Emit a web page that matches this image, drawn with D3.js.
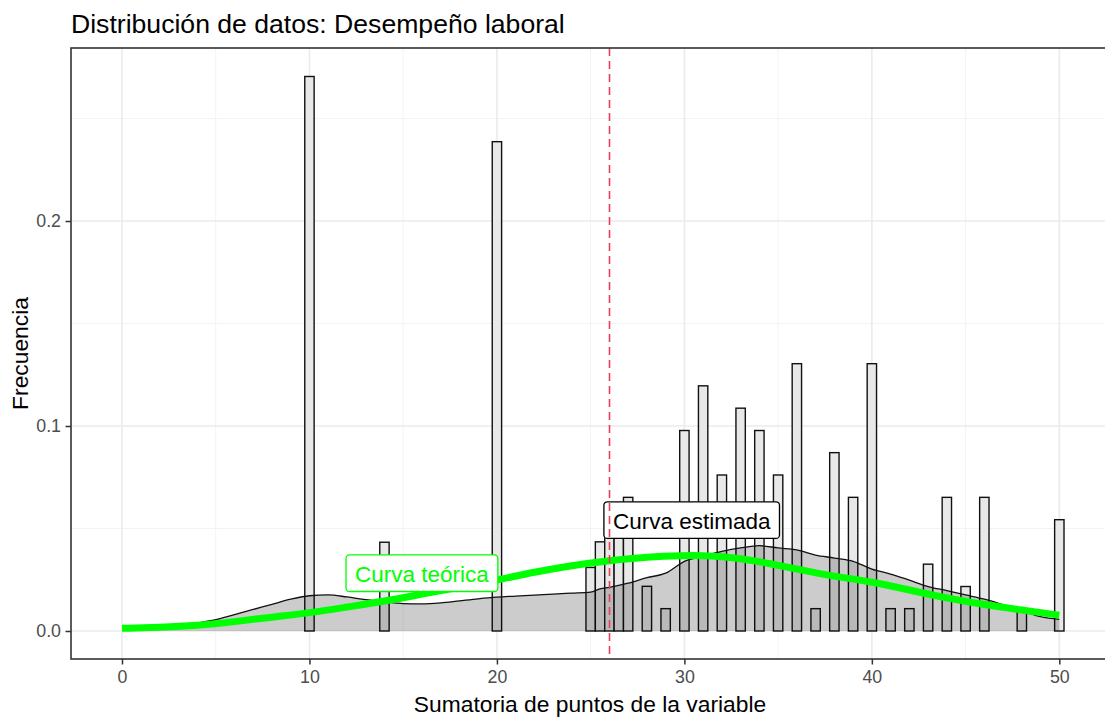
<!DOCTYPE html>
<html><head><meta charset="utf-8">
<script src="https://cdn.jsdelivr.net/npm/d3@7"></script>
<style>body{margin:0;background:#fff} text{font-family:"Liberation Sans",Arial,sans-serif}</style>
</head><body><svg id="c" width="1105" height="718"></svg>
<script>
// ---- data ----
const barX = [10,14,20,25,25.5,26,26.5,27,28,29,30,31,32,33,34,35,36,37,38,39,40,41,42,43,44,45,46,48,50];
const barY = [0.2705,0.0433,0.2387,0.031,0.0435,0.0543,0.0543,0.0652,0.0218,0.0109,0.0978,0.1196,0.0761,0.1087,0.0978,0.0761,0.1304,0.0109,0.087,0.0652,0.1304,0.0109,0.0109,0.0326,0.0652,0.0217,0.0652,0.0109,0.0543];
const binWidth = 0.5;

const densX = [0,1,2,3,4,5,6,7,8,9,10,11,12,13,14,15,16,17,18,19,20,21,22,23,24,25,25.5,26,27,28,29,30,31,32,33,34,35,36,37,38,39,40,41,42,43,44,45,46,47,48,49,50];
const densY = [0.0005,0.0007,0.001,0.002,0.0038,0.0055,0.008,0.0105,0.013,0.0155,0.0172,0.0176,0.0166,0.0153,0.0143,0.0134,0.0132,0.0137,0.0147,0.0157,0.0165,0.017,0.0175,0.018,0.0185,0.019,0.0205,0.0213,0.0233,0.026,0.0282,0.034,0.0365,0.0388,0.0405,0.0416,0.0405,0.0396,0.037,0.0356,0.034,0.0302,0.0278,0.0248,0.0217,0.0197,0.0176,0.0155,0.0128,0.0099,0.007,0.0057];

const normX = [0,2,4,6,8,10,12,14,16,18,20,22,24,26,28,30,31,32,33,34.5,36,38,40,42,44,46,48,50];
const normY = [0.0013,0.0018,0.0026,0.0045,0.0068,0.0088,0.0117,0.0145,0.018,0.0213,0.0248,0.0288,0.032,0.0344,0.0362,0.0368,0.0368,0.0363,0.0354,0.033,0.0302,0.0266,0.024,0.02,0.016,0.0128,0.0102,0.0077];

const meanX = 26;
const labelText = ["Curva estimada","Curva teórica"];
const labelX = [26, 16];        // estimada: left-anchored; teórica: centered
const labelY = [0.0541, 0.0282];

const xTicks = [0,10,20,30,40,50];
const xMinor = [5,15,25,35,45];
const yTicks = [0,0.1,0.2];
const yTickLabels = ["0.0","0.1","0.2"];
const yMinor = [0.05,0.15,0.25];

const titleText = "Distribución de datos: Desempeño laboral";
const xTitle = "Sumatoria de puntos de la variable";
const yTitle = "Frecuencia";

// ---- layout ----
const svg = d3.select("#c");
const P = {l:71, r:1109, t:48, b:659};
const x = d3.scaleLinear().domain([-2.72, 52.65]).range([P.l, P.r]);
const y = d3.scaleLinear().domain([-0.01366, 0.2844]).range([P.b, P.t]);

svg.append("rect").attr("width",1105).attr("height",718).attr("fill","#fff");
svg.append("defs").append("clipPath").attr("id","clip")
  .append("rect").attr("x",P.l).attr("y",P.t).attr("width",P.r-P.l).attr("height",P.b-P.t);
const g = svg.append("g").attr("clip-path","url(#clip)");

// grid
g.selectAll(".gxm").data(xMinor).join("line").attr("x1",d=>x(d)).attr("x2",d=>x(d))
  .attr("y1",P.t).attr("y2",P.b).attr("stroke","#f3f3f3").attr("stroke-width",1);
g.selectAll(".gym").data(yMinor).join("line").attr("y1",d=>y(d)).attr("y2",d=>y(d))
  .attr("x1",P.l).attr("x2",P.r).attr("stroke","#f3f3f3").attr("stroke-width",1);
g.selectAll(".gx").data(xTicks).join("line").attr("x1",d=>x(d)).attr("x2",d=>x(d))
  .attr("y1",P.t).attr("y2",P.b).attr("stroke","#ebebeb").attr("stroke-width",1.6);
g.selectAll(".gy").data(yTicks).join("line").attr("y1",d=>y(d)).attr("y2",d=>y(d))
  .attr("x1",P.l).attr("x2",P.r).attr("stroke","#ebebeb").attr("stroke-width",1.6);

// bars
g.selectAll(".bar").data(barX.map((v,i)=>({x:v,y:barY[i]}))).join("rect")
  .attr("x",d=>x(d.x-binWidth/2)).attr("width",d=>x(d.x+binWidth/2)-x(d.x-binWidth/2))
  .attr("y",d=>y(d.y)).attr("height",d=>y(0)-y(d.y))
  .attr("fill","#e8e8e8").attr("stroke","#111").attr("stroke-width",1.4);

// density
const dens = densX.map((v,i)=>[v,densY[i]]);
g.append("path").datum(dens)
  .attr("d", d3.area().x(d=>x(d[0])).y0(y(0)).y1(d=>y(d[1])).curve(d3.curveMonotoneX))
  .attr("fill","rgba(0,0,0,0.2)");
g.append("path").datum(dens)
  .attr("d", d3.line().x(d=>x(d[0])).y(d=>y(d[1])).curve(d3.curveMonotoneX))
  .attr("fill","none").attr("stroke","#111").attr("stroke-width",1.3);

// theoretical curve
const norm = normX.map((v,i)=>[v,normY[i]]);
g.append("path").datum(norm)
  .attr("d", d3.line().x(d=>x(d[0])).y(d=>y(d[1])).curve(d3.curveBasis))
  .attr("fill","none").attr("stroke","#00ff00").attr("stroke-width",7).attr("stroke-linecap","butt");

// labels
const fs = 22.5, padX = 9, boxH = 36.6;
const colors = ["#000","#00ff00"];
labelText.forEach((t,i)=>{
  const lg = g.append("g");
  const rect = lg.append("rect");
  const tx = lg.append("text").text(t).attr("font-size",fs).attr("fill",colors[i]);
  const w = tx.node().getComputedTextLength();
  let left;
  if (i===0) left = x(labelX[i]) - 5.5; else left = x(labelX[i]) - (w+2*padX)/2;
  const cy = y(labelY[i]);
  rect.attr("x",left).attr("y",cy-boxH/2).attr("width",w+2*padX).attr("height",boxH)
    .attr("rx",3.5).attr("fill","#fff").attr("stroke",colors[i]).attr("stroke-width",1.3);
  tx.attr("x",left+padX).attr("y",cy+8.5);
});

// mean line
g.append("line").attr("x1",Math.round(x(meanX))+0.5).attr("x2",Math.round(x(meanX))+0.5).attr("y1",P.t).attr("y2",P.b)
  .attr("stroke","#e8405a").attr("stroke-width",1.6).attr("stroke-dasharray","8,5");

// panel border
svg.append("rect").attr("x",P.l).attr("y",P.t).attr("width",P.r-P.l).attr("height",P.b-P.t)
  .attr("fill","none").attr("stroke","#333").attr("stroke-width",1.6);

// axes
const xa = svg.append("g").attr("transform",`translate(0,${P.b})`)
  .call(d3.axisBottom(x).tickValues(xTicks).tickSize(5.5).tickPadding(6).tickFormat(d3.format("d")));
const ya = svg.append("g").attr("transform",`translate(${P.l},0)`)
  .call(d3.axisLeft(y).tickValues(yTicks).tickSize(5.5).tickPadding(4.5).tickFormat((d,i)=>yTickLabels[i]));
[xa,ya].forEach(a=>{
  a.select(".domain").remove();
  a.selectAll(".tick line").attr("stroke","#333").attr("stroke-width",1.5);
  a.selectAll(".tick text").attr("fill","#4d4d4d").attr("font-size",17.8)
    .attr("font-family","Liberation Sans, Arial, sans-serif");
});

// titles
svg.append("text").attr("x",P.l).attr("y",33).attr("font-size",26.6).attr("fill","#000").text(titleText);
svg.append("text").attr("x",(P.l+P.r)/2).attr("y",712).attr("text-anchor","middle")
  .attr("font-size",22.8).attr("fill","#000").text(xTitle);
svg.append("text").attr("transform",`translate(28,${(P.t+P.b)/2}) rotate(-90)`).attr("text-anchor","middle")
  .attr("font-size",22.8).attr("fill","#000").text(yTitle);
</script></body></html>
